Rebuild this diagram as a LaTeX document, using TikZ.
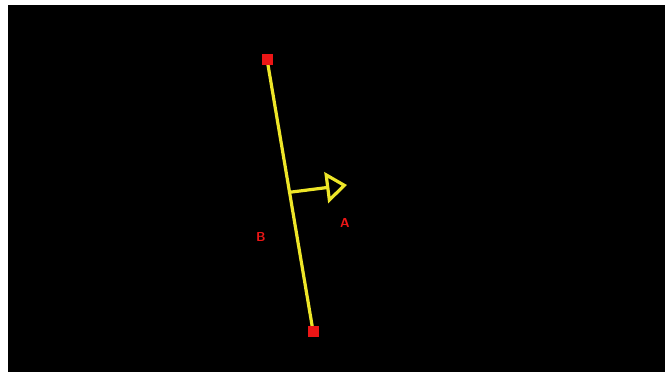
\documentclass[tikz,border=0pt]{standalone}
\usepackage{tikz}
\usetikzlibrary{
  arrows.meta,
  positioning,
  calc,
  backgrounds
}
\definecolor{lineyellow}{RGB}{238,230,40}
\definecolor{markred}{RGB}{236,22,22}

\begin{document}
\begin{tikzpicture}[
    x=1pt,
    y=-1pt,
    endpt/.style={fill=markred,draw=none,minimum size=11pt,inner sep=0pt},
    seg/.style={lineyellow,line width=3.2pt},
    lbl/.style={text=markred,font=\sffamily\bfseries\fontsize{13}{13}\selectfont}
    ]
    
    \useasboundingbox (0,0) rectangle (665,376);
    
    \node[endpt] (top) at (267,59) {};
    \node[endpt] (bot) at (313,331) {};
    
    \begin{pgfonlayer}{background}
    \fill[white] (0,0) rectangle (665,376);
    \fill[black] (8,5) rectangle (665,372);
    \draw[seg] (top.center) -- (bot.center);
    \end{pgfonlayer}
    
    \coordinate (foot) at ($(top.center)!0.49!(bot.center)$);
    \coordinate (head) at (347,185);
    
    \draw[seg,-{Triangle[open,length=21pt,width=31pt,line join=miter]}]
    (foot) -- (head);
    
    \node[lbl] (labB) at (261,237) {B};
    \node[lbl] (labA) at (345,223) {A};
    
    \end{tikzpicture}
\end{document}
